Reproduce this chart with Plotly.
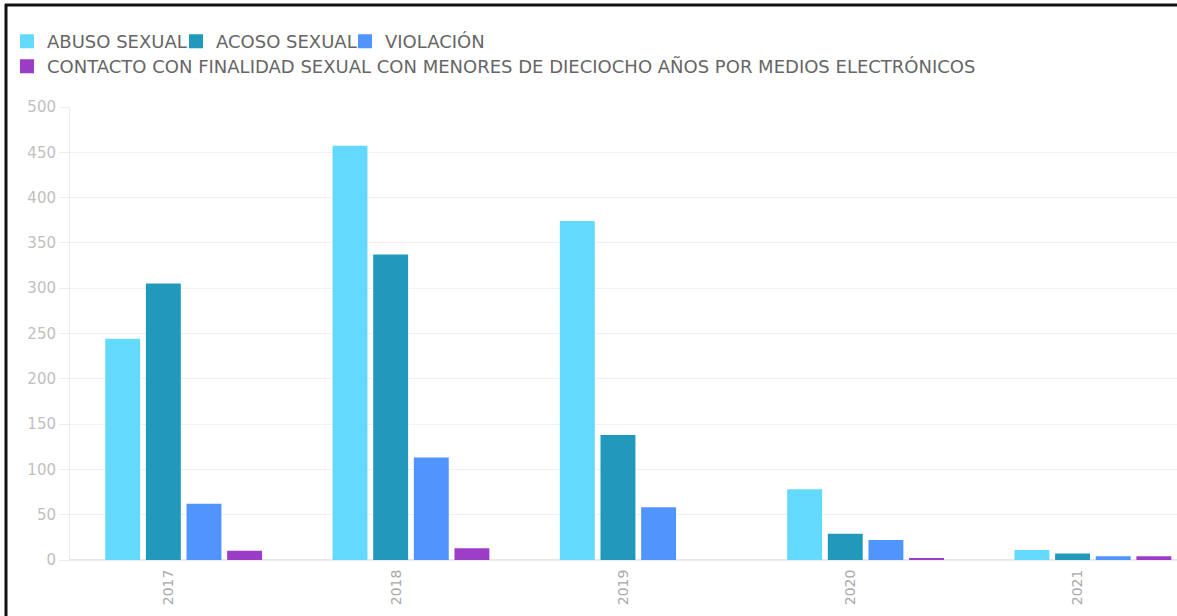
import plotly.graph_objects as go

years = ["2017", "2018", "2019", "2020", "2021"]
abuso = [243, 456, 373, 77, 10]
acoso = [304, 336, 137, 28, 6]
violacion = [61, 112, 57, 21, 3]
contacto = [9, 12, 0, 1, 3]

series_names = [
    "ABUSO SEXUAL",
    "ACOSO SEXUAL",
    "VIOLACIÓN",
    "CONTACTO CON FINALIDAD SEXUAL CON MENORES DE DIECIOCHO AÑOS POR MEDIOS ELECTRÓNICOS",
]
series_values = [abuso, acoso, violacion, contacto]
colors = ["#63D9FE", "#2099BB", "#5094FE", "#9C3DC6"]
legend_ids = ["legend", "legend", "legend", "legend2"]

y_ticks = [0, 50, 100, 150, 200, 250, 300, 350, 400, 450, 500]

FONT = "DejaVu Sans"

fig = go.Figure()
for name, vals, col, lg in zip(series_names, series_values, colors, legend_ids):
    line_w = [0 if v == 0 else 2 for v in vals]
    fig.add_trace(go.Bar(x=years, y=vals, name=name, legend=lg,
                         marker=dict(color=col, line=dict(width=line_w, color=col))))

# plot area in pixels
L, T, B = 70, 107, 56
W, H = 1177, 616
pw = W - L
ph = H - T - B

def px_x(x):
    return (x - L) / pw

def px_y(y):
    return (H - B - y) / ph

shapes = []
# vertical tick lines below axis at each category
for yr in years:
    shapes.append(dict(type="line", xref="x", yref="paper", x0=yr, x1=yr,
                       y0=0, y1=px_y(600), line=dict(color="#ececec", width=1), layer="below"))
# outer border of the screenshot
shapes.append(dict(type="line", xref="paper", yref="paper", x0=px_x(6), x1=px_x(6),
                   y0=px_y(4), y1=px_y(620), line=dict(color="#111", width=3)))
shapes.append(dict(type="line", xref="paper", yref="paper", x0=px_x(5), x1=px_x(1180),
                   y0=px_y(5), y1=px_y(5), line=dict(color="#111", width=3)))

legend_common = dict(orientation="h", xanchor="left", yanchor="top",
                     font=dict(size=18, color="#666", family=FONT), itemwidth=30,
                     traceorder="normal", bgcolor="rgba(0,0,0,0)")

fig.update_layout(
    width=W, height=H,
    margin=dict(l=L, r=0, t=T, b=B, autoexpand=False),
    paper_bgcolor="white", plot_bgcolor="white",
    font=dict(family=FONT, color="#666"),
    barmode="group", bargap=0.285, bargroupgap=0.19,
    showlegend=True,
    legend=dict(x=px_x(7), y=px_y(23), entrywidth=124, entrywidthmode="pixels", **legend_common),
    legend2=dict(x=px_x(7), y=px_y(48), **legend_common),
    shapes=shapes,
    xaxis=dict(type="category", range=[-0.5, 4.37], tickangle=-90, ticks="",
               tickfont=dict(size=14, color="#aaa", family=FONT), showgrid=False,
               showline=True, linecolor="#ececec", linewidth=1, ticklabelshift=-15,
               ticklabelstandoff=3, automargin=False),
    yaxis=dict(range=[0, 500], tickvals=y_ticks, ticks="outside", ticklen=10,
               tickcolor="#ececec", tickfont=dict(size=15, color="#c0c0c0", family=FONT),
               showgrid=True, gridcolor="#f0f0f0", zeroline=True, zerolinecolor="#e6e6e6",
               showline=True, linecolor="#ececec", automargin=False),
)

fig.write_html("out.html", config={"displayModeBar": False},
               post_script="document.body.style.margin='0px';")
